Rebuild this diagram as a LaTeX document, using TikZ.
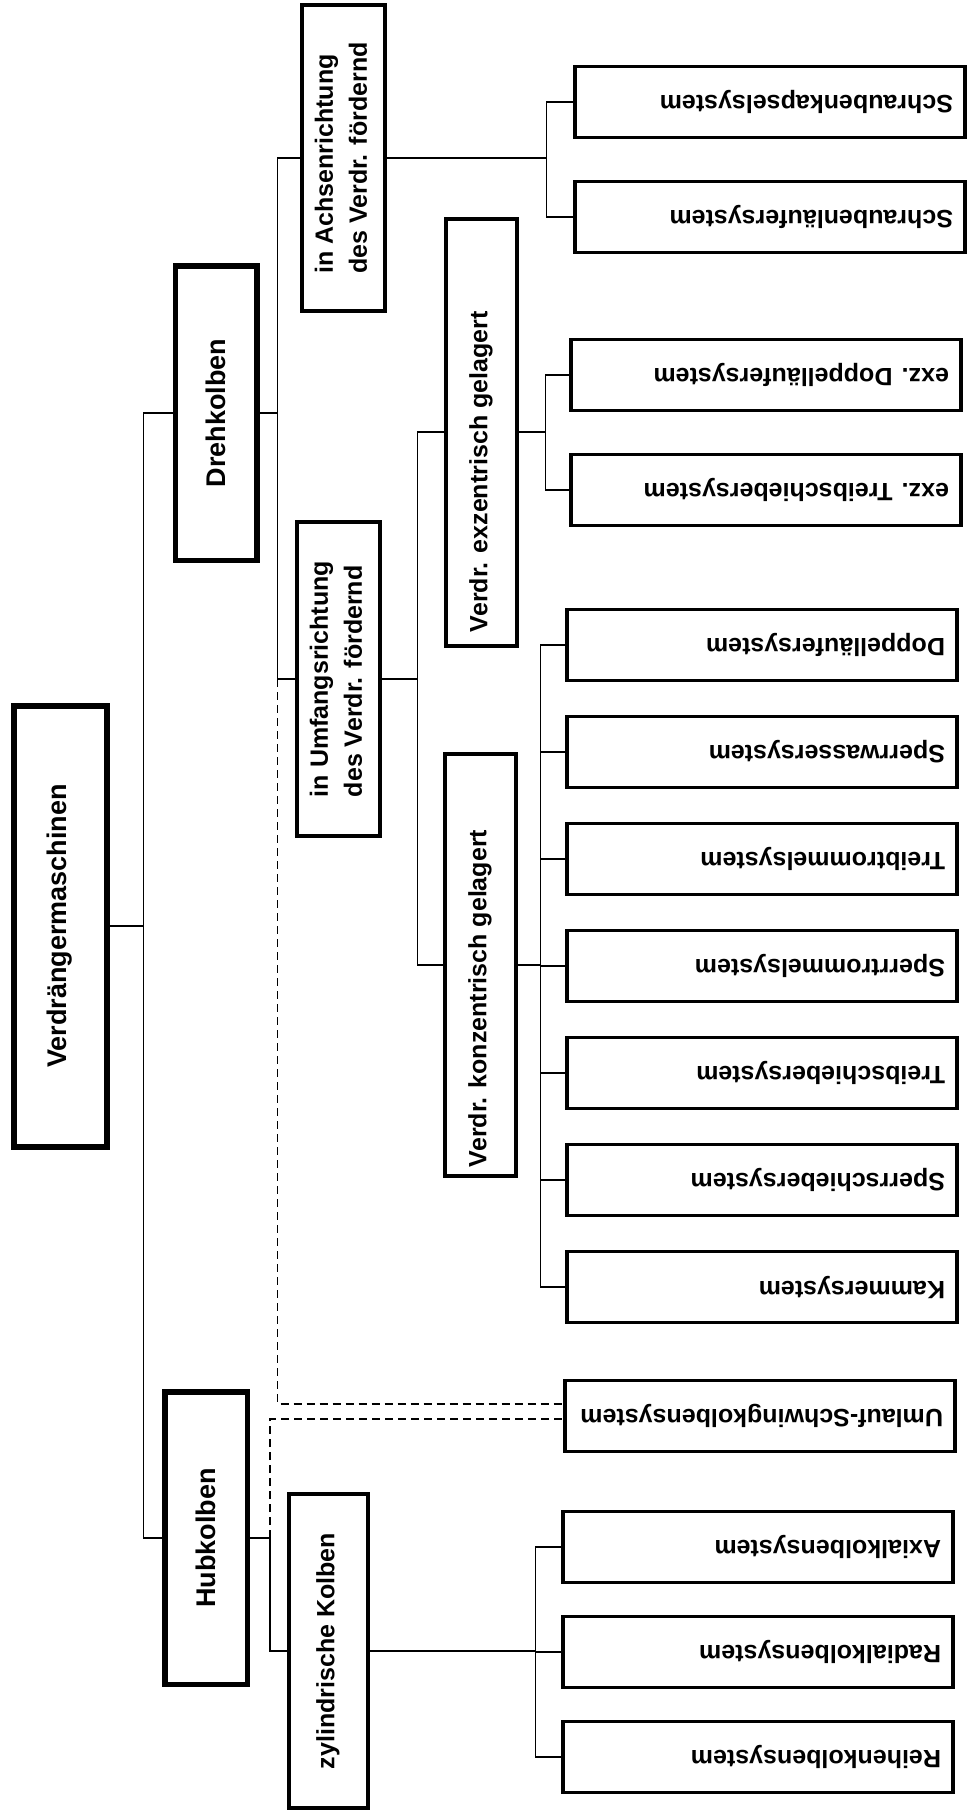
\documentclass[tikz,border=0pt]{standalone}
\usepackage{fontspec}
\setmainfont{Liberation Sans}
\usepackage{graphicx}
\usetikzlibrary{positioning}

\newcommand{\diafont}{\fontsize{27}{34}\selectfont}
\newcommand{\smfont}{\fontsize{25}{34}\selectfont}
\newcommand{\vtext}[1]{\rotatebox{90}{#1}}
\newcommand{\fliptext}[1]{\rotatebox{180}{\makebox[366pt][l]{#1}}}

\tikzset{
	mainbox/.style={draw, line width=5.5pt, inner sep=0pt, font=\diafont\bfseries},
	subbox/.style={draw, line width=4pt, inner sep=0pt, font=\smfont\bfseries},
	leafbox/.style={draw, line width=3.5pt, inner sep=0pt, minimum width=390pt, minimum height=71pt, font=\smfont\bfseries},
	conn/.style={line width=1.8pt},
	dashlink/.style={dash pattern=on 8pt off 5pt},
	fork/.style={to path={(\tikztostart.east) -- ++(#1,0) |- (\tikztotarget.west)}}
}

\begin{document}
\begin{tikzpicture}[x=1pt,y=-1pt,node distance=107pt,on grid]
			\useasboundingbox (0,0) rectangle (968,1820);
			\node[mainbox,line width=6pt,minimum width=93pt,minimum height=441pt] (root) at (60,926) {\vtext{Verdrängermaschinen}};
			\node[mainbox,minimum width=81.5pt,minimum height=294.5pt] (drehk) at (216,413) {\vtext{Drehkolben}};
			\node[mainbox,minimum width=82.5pt,minimum height=292.5pt] (hubk) at (206,1538) {\vtext{Hubkolben}};
			\node[subbox,minimum width=83pt,minimum height=306pt] (achs) at (343,158) {\vtext{\begin{tabular}{@{}l@{}}in Achsenrichtung\\des Verdr. fördernd\end{tabular}}};
			\node[subbox,minimum width=83pt,minimum height=314pt] (umfang) at (338,679) {\vtext{\begin{tabular}{@{}l@{}}in Umfangsrichtung\\des Verdr. fördernd\end{tabular}}};
			\node[subbox,minimum width=71pt,minimum height=427pt] (exz) at (481,432) {\vtext{\makebox[400pt][l]{Verdr. exzentrisch gelagert}}};
			\node[subbox,minimum width=71pt,minimum height=422pt] (konz) at (480,965) {\vtext{\makebox[404pt][l]{Verdr. konzentrisch gelagert}}};
			\node[subbox,minimum width=79pt,minimum height=314pt] (zyl) at (328,1651) {\vtext{zylindrische Kolben}};
			\node[leafbox] (skap) at (770,102) {\fliptext{Schraubenkapselsystem}};
			\node[leafbox,below=115pt of skap] (slauf) {\fliptext{Schraubenläufersystem}};
			\node[leafbox] (edopp) at (766,375) {\fliptext{exz. Doppelläufersystem}};
			\node[leafbox,below=115pt of edopp] (etreib) {\fliptext{exz. Treibschiebersystem}};
			\node[leafbox] (dopp) at (762,645) {\fliptext{Doppelläufersystem}};
			\node[leafbox,below=of dopp] (swass) {\fliptext{Sperrwassersystem}};
			\node[leafbox,below=of swass] (ttrom) {\fliptext{Treibtrommelsystem}};
			\node[leafbox,below=of ttrom] (strom) {\fliptext{Sperrtrommelsystem}};
			\node[leafbox,below=of strom] (tschieb) {\fliptext{Treibschiebersystem}};
			\node[leafbox,below=of tschieb] (sschieb) {\fliptext{Sperrschiebersystem}};
			\node[leafbox,below=of sschieb] (kammer) {\fliptext{Kammersystem}};
			\node[leafbox] (umlauf) at (760,1416) {\fliptext{Umlauf-Schwingkolbensystem}};
			\node[leafbox] (axial) at (758,1547) {\fliptext{Axialkolbensystem}};
			\node[leafbox,below=105pt of axial] (radial) {\fliptext{Radialkolbensystem}};
			\node[leafbox,below=105pt of radial] (reihe) {\fliptext{Reihenkolbensystem}};
			\coordinate (dbus) at (277.5,0);
			\coordinate (hbus) at (270,0);
			\draw[conn] 
			(root) edge[fork=34] (drehk)
			edge[fork=34] (hubk)
			(drehk) edge[fork=18] (achs)
			edge[fork=18] (umfang)
			(hubk) edge[fork=20] (zyl)
			(achs) edge[fork=160] (skap)
			edge[fork=160] (slauf)
			(umfang) edge[fork=36] (exz)
			edge[fork=36] (konz)
			(exz) edge[fork=27] (edopp)
			edge[fork=27] (etreib)
			(konz) edge[fork=23] (dopp)
			edge[fork=23] (swass)
			edge[fork=23] (ttrom)
			edge[fork=23] (strom)
			edge[fork=23] (tschieb)
			edge[fork=23] (sschieb)
			edge[fork=23] (kammer)
			(zyl) edge[fork=166] (axial)
			edge[fork=166] (radial)
			edge[fork=166] (reihe);
			\draw[conn,dashlink] (umfang.west -| dbus) |- ([yshift=12pt]umlauf.west);
			\draw[conn,dashlink] (hubk.east -| hbus) |- ([yshift=-3pt]umlauf.west);
		\end{tikzpicture}
\end{document}
